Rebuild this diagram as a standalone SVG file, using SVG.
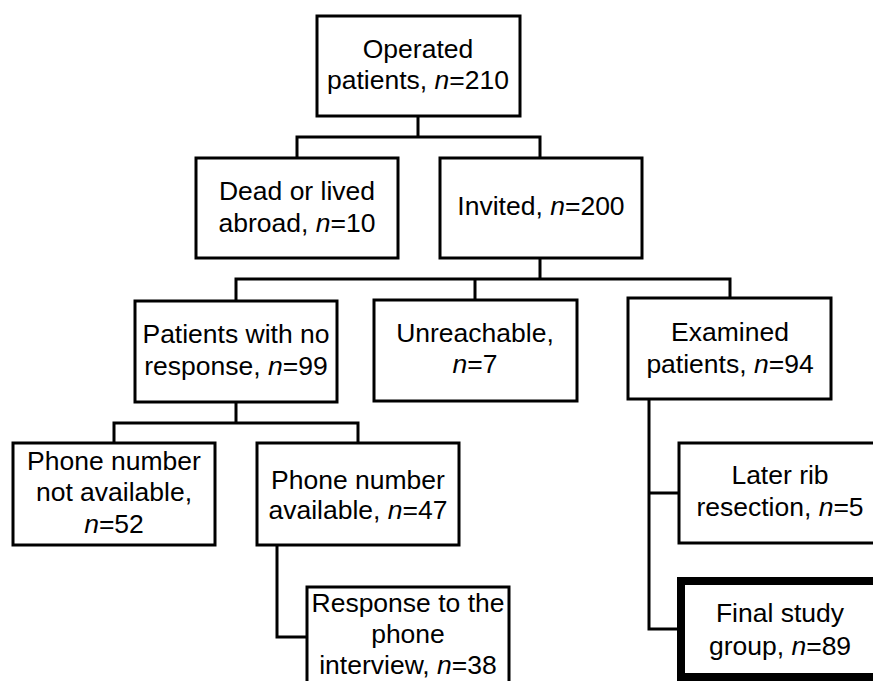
<svg xmlns="http://www.w3.org/2000/svg" width="873" height="681" viewBox="0 0 873 681">
<style>
  .box { fill: #ffffff; stroke: #000000; stroke-width: 3; }
  .thick { fill: #ffffff; stroke: #000000; stroke-width: 8; }
  .conn { fill: none; stroke: #000000; stroke-width: 3; stroke-linejoin: miter; }
  text { font-family: "Liberation Sans", Arial, sans-serif; font-size: 26.5px; fill: #000000; text-anchor: middle; }
  .i { font-style: italic; }
</style>
<rect x="0" y="0" width="873" height="681" fill="#ffffff"/>
<g id="connectors">
  <path class="conn" d="M418,116 V137 M297,158 V137 H540 V158"/>
  <path class="conn" d="M540,258 V279 M236,301 V279 H730 V298 M475,300 V279"/>
  <path class="conn" d="M236,402 V423 M114,443 V423 H358 V443"/>
  <path class="conn" d="M277,545 V637 H307"/>
  <path class="conn" d="M649,399 V629 H681 M649,493 H679"/>
</g>
<g id="operated">
  <rect class="box" x="317" y="16" width="203" height="100"/>
  <text x="418" y="58">Operated</text>
  <text x="418" y="89">patients, <tspan class="i">n</tspan>=210</text>
</g>
<g id="dead">
  <rect class="box" x="196" y="158" width="202" height="100"/>
  <text x="297" y="200">Dead or lived</text>
  <text x="297" y="232">abroad, <tspan class="i">n</tspan>=10</text>
</g>
<g id="invited">
  <rect class="box" x="440" y="158" width="202" height="100"/>
  <text x="541" y="215">Invited, <tspan class="i">n</tspan>=200</text>
</g>
<g id="noresponse">
  <rect class="box" x="135" y="301" width="202" height="101"/>
  <text x="236" y="343">Patients with no</text>
  <text x="236" y="375">response, <tspan class="i">n</tspan>=99</text>
</g>
<g id="unreachable">
  <rect class="box" x="374" y="300" width="203" height="101"/>
  <text x="475" y="342">Unreachable,</text>
  <text x="475" y="373"><tspan class="i">n</tspan>=7</text>
</g>
<g id="examined">
  <rect class="box" x="628" y="298" width="203" height="101"/>
  <text x="730" y="341">Examined</text>
  <text x="730" y="373">patients, <tspan class="i">n</tspan>=94</text>
</g>
<g id="phone-not-available">
  <rect class="box" x="13" y="443" width="202" height="102"/>
  <text x="114" y="470">Phone number</text>
  <text x="114" y="501">not available,</text>
  <text x="114" y="533"><tspan class="i">n</tspan>=52</text>
</g>
<g id="phone-available">
  <rect class="box" x="257" y="443" width="202" height="102"/>
  <text x="358" y="489">Phone number</text>
  <text x="358" y="519">available, <tspan class="i">n</tspan>=47</text>
</g>
<g id="later-rib">
  <rect class="box" x="679" y="443" width="203" height="100"/>
  <text x="780" y="484">Later rib</text>
  <text x="780" y="516">resection, <tspan class="i">n</tspan>=5</text>
</g>
<g id="response">
  <rect class="box" x="307" y="587" width="202" height="100"/>
  <text x="408" y="612">Response to the</text>
  <text x="408" y="643">phone</text>
  <text x="408" y="674">interview, <tspan class="i">n</tspan>=38</text>
</g>
<g id="final">
  <rect class="thick" x="681" y="581" width="203" height="96"/>
  <text x="780" y="622">Final study</text>
  <text x="780" y="655">group, <tspan class="i">n</tspan>=89</text>
</g>
</svg>
